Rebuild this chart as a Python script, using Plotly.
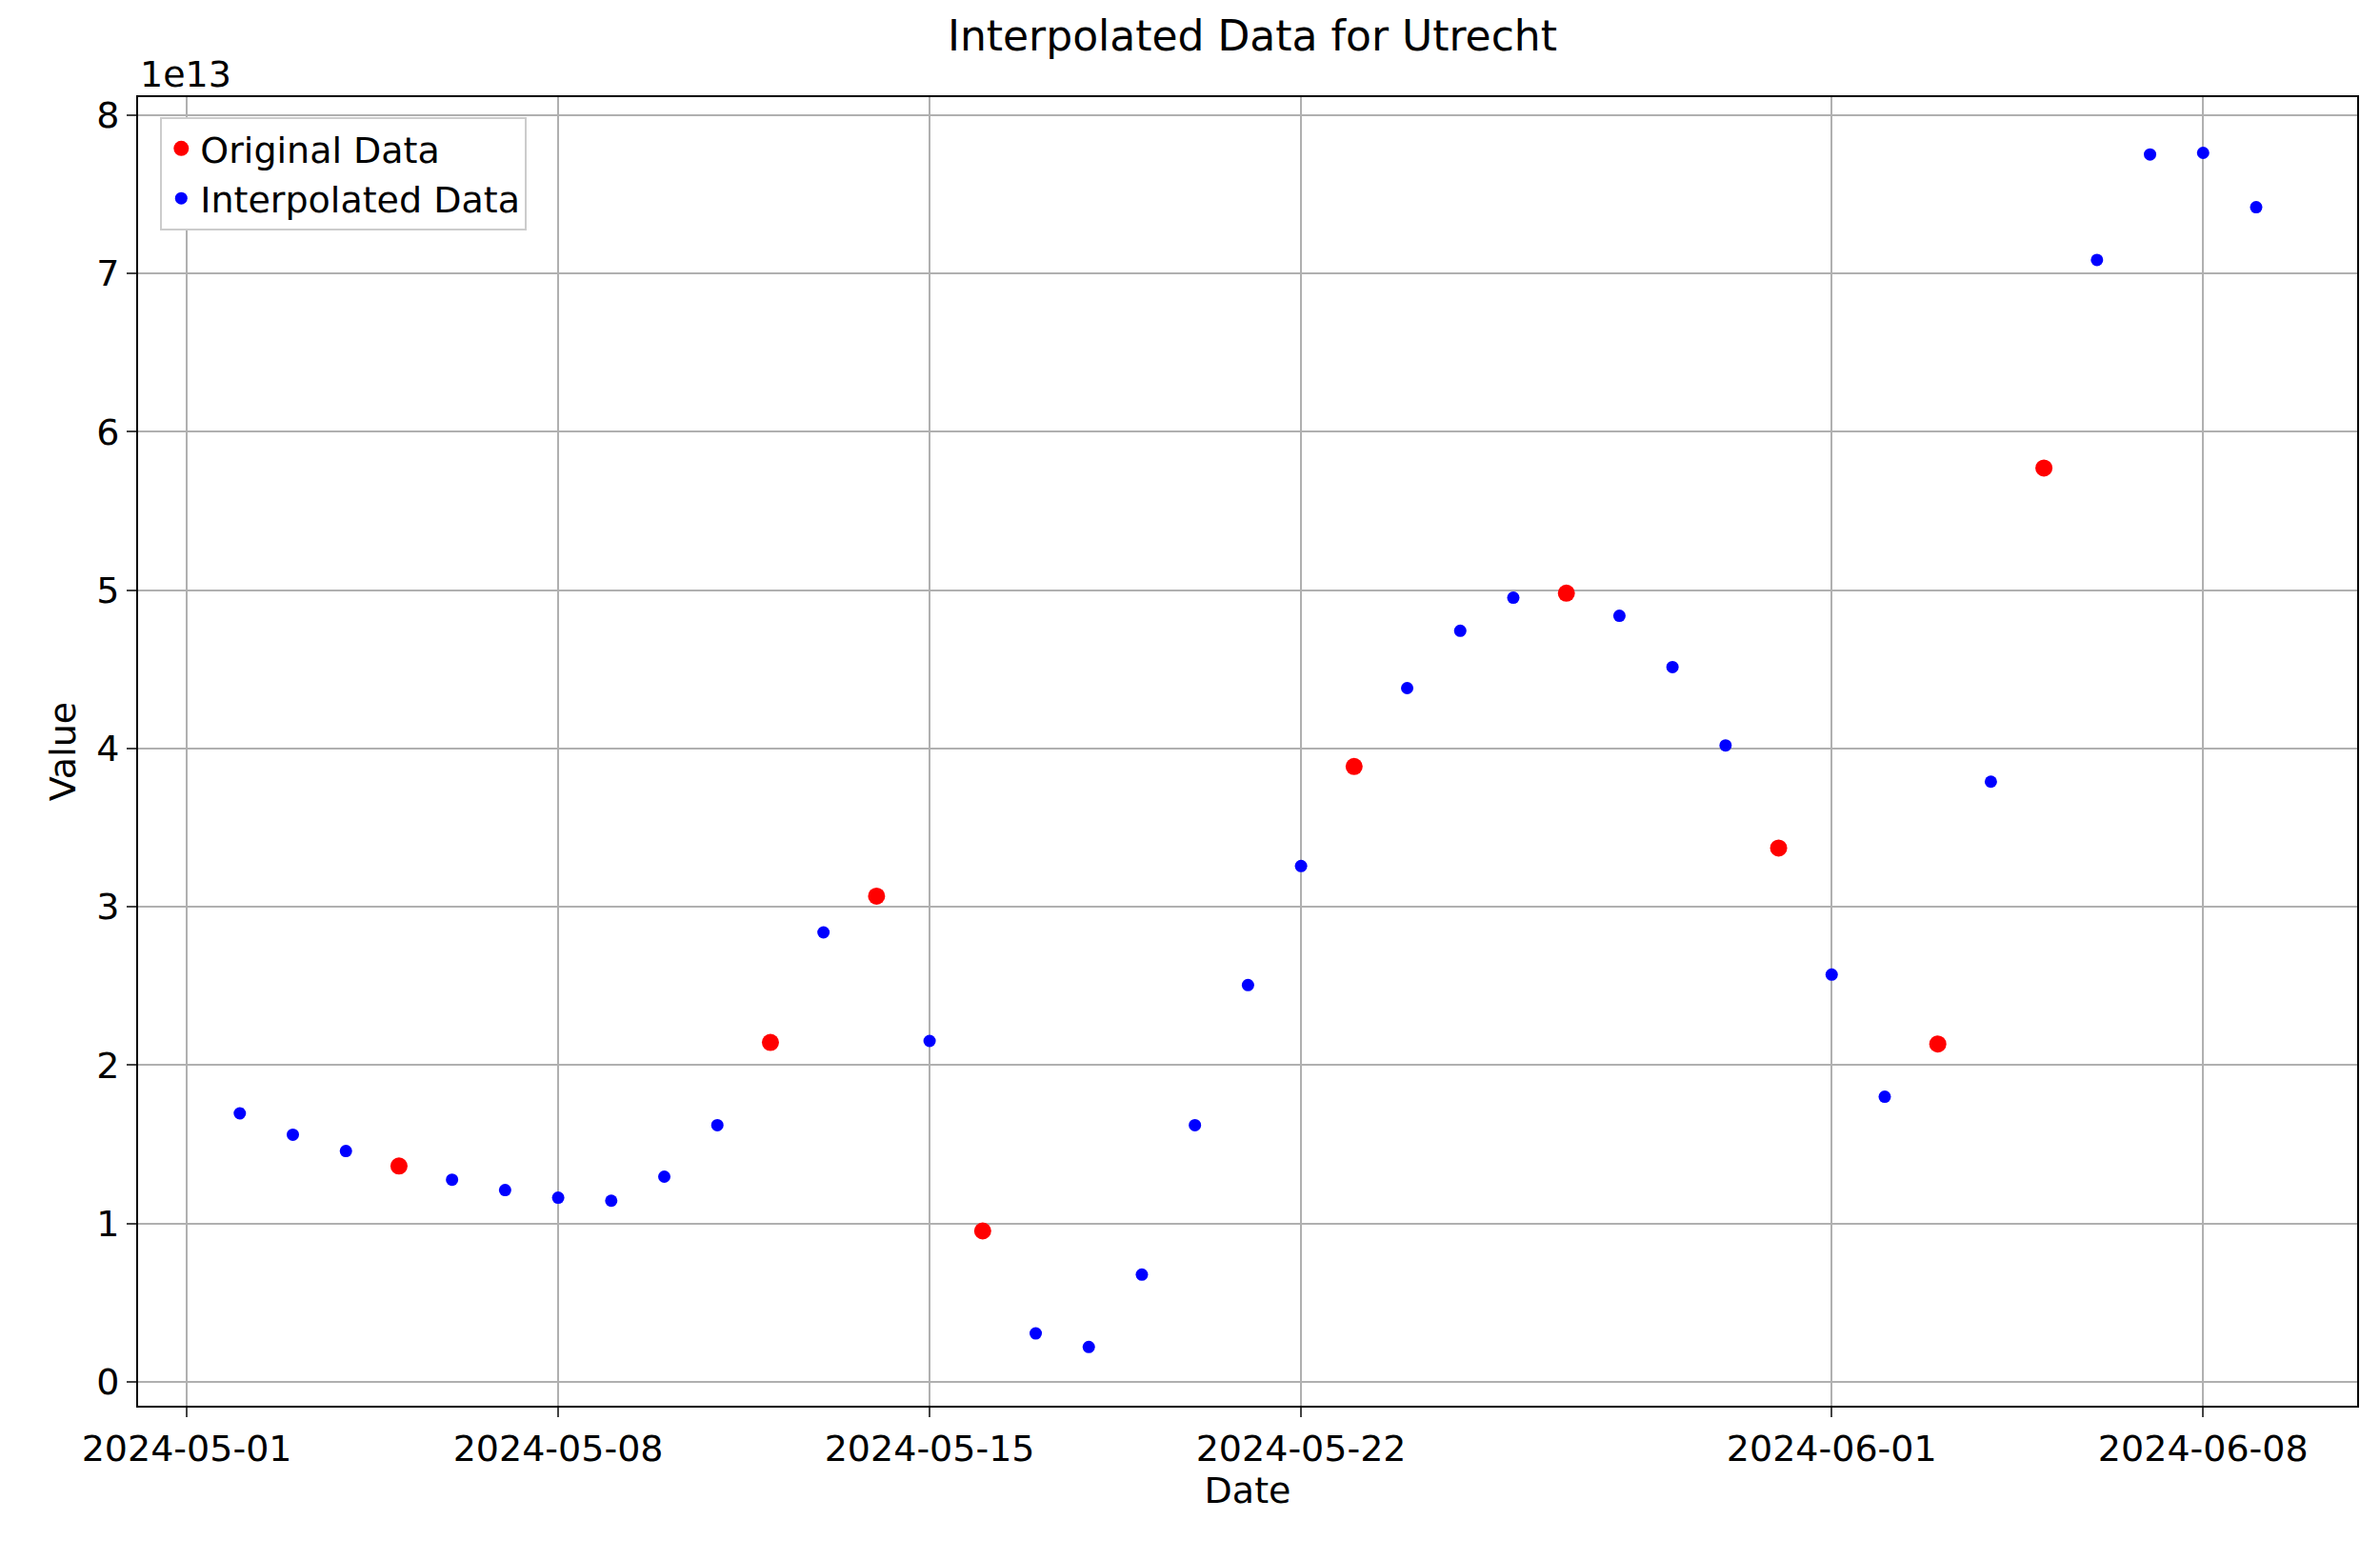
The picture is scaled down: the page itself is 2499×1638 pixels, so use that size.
import pandas as pd
import plotly.graph_objects as go

orig_dates = ["2024-05-05", "2024-05-12", "2024-05-14", "2024-05-16", "2024-05-23",
              "2024-05-27", "2024-05-31", "2024-06-03", "2024-06-05"]
orig_vals = [1.362, 2.143, 3.067, 0.952, 3.886, 4.981, 3.371, 2.133, 5.771]

interp_dates = ["2024-05-02", "2024-05-03", "2024-05-04", "2024-05-06", "2024-05-07",
                "2024-05-08", "2024-05-09", "2024-05-10", "2024-05-11", "2024-05-13",
                "2024-05-15", "2024-05-17", "2024-05-18", "2024-05-19", "2024-05-20",
                "2024-05-21", "2024-05-22", "2024-05-24", "2024-05-25", "2024-05-26",
                "2024-05-28", "2024-05-29", "2024-05-30", "2024-06-01", "2024-06-02",
                "2024-06-04", "2024-06-06", "2024-06-07", "2024-06-08", "2024-06-09"]
interp_vals = [1.695, 1.56, 1.457, 1.276, 1.21, 1.162, 1.143, 1.295, 1.62, 2.838,
               2.152, 0.305, 0.219, 0.676, 1.62, 2.505, 3.257, 4.381, 4.743, 4.952,
               4.838, 4.514, 4.019, 2.571, 1.8, 3.79, 7.086, 7.752, 7.762, 7.419]

scale = 1e13
x_ticks = ["2024-05-01", "2024-05-08", "2024-05-15", "2024-05-22", "2024-06-01", "2024-06-08"]
y_ticks = list(range(0, 9))

fig = go.Figure()
fig.add_trace(go.Scatter(x=pd.to_datetime(orig_dates), y=[v * scale for v in orig_vals],
                         mode="markers", name="Original Data",
                         marker=dict(color="red", size=18)))
fig.add_trace(go.Scatter(x=pd.to_datetime(interp_dates), y=[v * scale for v in interp_vals],
                         mode="markers", name="Interpolated Data",
                         marker=dict(color="blue", size=13)))

font = dict(family="DejaVu Sans", size=38, color="black")
fig.update_layout(
    width=2499, height=1638, paper_bgcolor="white", plot_bgcolor="white",
    margin=dict(l=137, r=32, t=94, b=170),
    font=font,
    title=dict(text="Interpolated Data for Utrecht", x=0.523, xanchor="center",
               y=0.982, yanchor="middle", font=dict(size=44)),
    showlegend=True,
    legend=dict(x=0.01, y=0.985, xanchor="left", yanchor="top",
                bordercolor="#cccccc", borderwidth=2, bgcolor="white",
                font=dict(size=38)),
)
fig.update_xaxes(range=["2024-04-30 02:00", "2024-06-10 21:40"],
                 tickvals=pd.to_datetime(x_ticks), ticktext=x_ticks,
                 showgrid=True, gridcolor="#b0b0b0", gridwidth=2,
                 showline=True, linecolor="black", mirror=True, linewidth=2,
                 ticks="outside", ticklen=10, tickwidth=2,
                 title=dict(text="Date", font=dict(size=38), standoff=10))
fig.update_yaxes(range=[-0.152 * scale, 8.114 * scale],
                 tickvals=[t * scale for t in y_ticks], ticktext=[str(t) for t in y_ticks],
                 showgrid=True, gridcolor="#b0b0b0", gridwidth=2, zeroline=False,
                 showline=True, linecolor="black", mirror=True, linewidth=2,
                 ticks="outside", ticklen=10, tickwidth=2,
                 title=dict(text="Value", font=dict(size=38), standoff=10))
fig.add_annotation(text="1e13", xref="paper", yref="paper", x=0, y=1.0,
                   xanchor="left", yanchor="bottom", showarrow=False,
                   font=dict(size=38))
fig.write_html("out.html")
